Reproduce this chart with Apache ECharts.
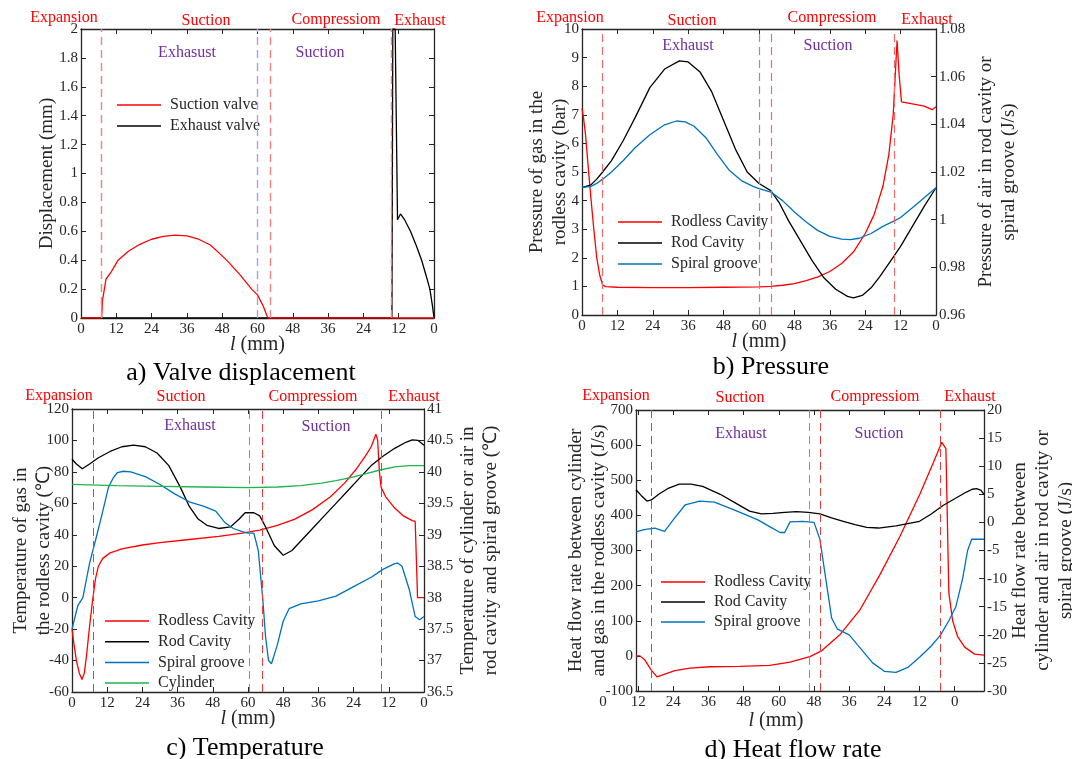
<!DOCTYPE html>
<html><head><meta charset="utf-8">
<script src="https://cdn.jsdelivr.net/npm/echarts@6/dist/echarts.min.js"></script>
<style>html,body{margin:0;padding:0;background:#fff}#c{width:1072px;height:759px}</style>
</head><body><div id="c"></div>
<script>
// ---------- data (x = position along cycle: 0..60 forward, 60..120 return) ----------
const phaseNames = ['Expansion','Suction','Compressiom','Exhaust'];
const xTickLabels = [0,12,24,36,48,60,48,36,24,12,0];
const dTickValues = [12,24,36,48,60,72,84,96,108,120];

const aSuction = [[0,0],[7,0],[7.3,0.12],[8.5,0.27],[10,0.31],[12.6,0.4],[16,0.46],[20,0.51],[24,0.545],[28,0.565],[32,0.573],[36,0.568],[40,0.545],[44,0.505],[48,0.43],[50,0.39],[54,0.3],[58,0.2],[60,0.16],[62,0.08],[63.5,0],[120,0]];
const aExhaust = [[0,0],[105.7,0],[106,2.0],[106.8,2.0],[107.6,0.68],[108.6,0.72],[110,0.68],[112,0.6],[114,0.5],[115.8,0.4],[117.5,0.28],[118.6,0.2],[119.5,0.08],[120,0]];

const bRodless = [[0,7.22],[0.5,6.9],[1.2,6.3],[2,5.3],[3.1,4.0],[4,3.0],[5,2.0],[6,1.4],[7,1.05],[8,0.99],[12,0.97],[24,0.96],[36,0.96],[48,0.97],[60,0.98],[64,1.0],[68,1.04],[72,1.1],[76,1.2],[80,1.33],[84,1.52],[88,1.8],[92,2.2],[96,2.85],[99,3.5],[102,4.5],[104,5.6],[105.5,7.0],[106.3,8.6],[106.8,9.6],[107.5,8.4],[108.3,7.45],[112,7.38],[116,7.3],[118.7,7.18],[120,7.28]];
const bRod = [[0,1.0134],[3,1.0146],[5,1.017],[7,1.02],[10,1.0248],[14,1.0332],[18,1.0428],[23,1.0554],[28,1.0632],[33,1.0666],[36,1.0662],[40,1.062],[44,1.0536],[48,1.0416],[52,1.0296],[56,1.02],[60,1.0152],[64,1.0122],[67,1.0068],[70,0.9996],[74,0.9912],[78,0.9828],[82,0.9756],[86,0.9708],[90,0.9678],[92,0.9672],[95,0.9682],[98,0.9714],[101,0.9762],[104,0.9816],[108,0.9888],[112,0.9972],[116,1.0056],[120,1.0134]];
const bSpiral = [[0,1.0134],[3,1.014],[5,1.0152],[7,1.017],[10,1.02],[14,1.0248],[18,1.0302],[23,1.0356],[28,1.0398],[32,1.0414],[35,1.041],[38,1.0392],[42,1.0344],[46,1.0272],[50,1.0206],[54,1.0164],[58,1.014],[60,1.013],[64,1.0116],[68,1.008],[72,1.0032],[76,0.999],[80,0.9954],[84,0.993],[88,0.9918],[91,0.9916],[94,0.9922],[98,0.9942],[102,0.9972],[106,0.9996],[108,1.0009],[112,1.005],[116,1.0092],[120,1.0134]];

const cRodless = [[0,-20],[0.7,-30],[1.5,-40],[2.5,-48],[3.4,-52],[4.2,-48],[5,-36],[6,-18],[7,-2],[8,12],[9,20],[10.5,25],[13,28.5],[17,31],[24,33.5],[30,35],[40,37],[50,39],[58,41],[64,43],[70,46],[76,50],[82,56],[88,64],[93,73],[97,82],[100,90],[102,96],[103.6,104],[104.2,100],[104.8,80],[105.4,70],[107,64],[110,57],[113,52],[116,49],[117,48.5],[117.3,49.5],[117.8,0],[120,0]];
const cRod = [[0,40.2],[1.5,40.125],[3.5,40.05],[6,40.125],[9,40.225],[13,40.325],[17,40.4],[21,40.425],[25,40.4],[29,40.3],[33,40.1],[37,39.75],[40,39.45],[43,39.25],[46,39.15],[50,39.1],[54,39.125],[57,39.25],[59,39.35],[62,39.35],[64,39.3],[66,39.125],[69,38.825],[72,38.675],[75,38.75],[78,38.9],[82,39.1],[86,39.3],[90,39.5],[94,39.7],[98,39.9],[102,40.1],[106,40.25],[110,40.375],[114,40.475],[116,40.51],[118,40.5],[120,40.425]];
const cSpiral = [[0,37.5],[2,37.875],[3.7,38.0],[6,38.55],[8.5,39.0],[10.5,39.375],[12.4,39.75],[14,39.9],[15.5,39.99],[17.5,40.01],[20,40.0],[25,39.925],[30,39.8],[35,39.65],[40,39.525],[45,39.45],[49,39.375],[52,39.2],[55,39.1],[58,39.05],[60,39.025],[62,39.025],[63.5,38.75],[65,38.0],[66,37.375],[67,37.0],[68,36.95],[70,37.25],[72,37.625],[74,37.825],[78,37.9],[84,37.95],[90,38.025],[96,38.175],[102,38.325],[106,38.45],[110,38.54],[111,38.55],[112.5,38.5],[115,38.125],[117,37.7],[118.5,37.65],[120,37.7]];
const cCylinder = [[0,39.8],[15,39.78],[30,39.77],[45,39.76],[60,39.75],[70,39.76],[78,39.78],[85,39.82],[90,39.86],[95,39.91],[100,39.97],[105,40.03],[110,40.08],[115,40.1],[120,40.1]];

const dRodless = [[11.25,0],[12.6,0],[14.3,-12],[16.4,-40],[18.4,-60],[21.1,-52],[24.5,-42],[29.7,-35],[36.5,-31],[46.7,-30],[56.9,-27],[63.8,-18],[70.6,-2],[74.7,15],[80.8,60],[87.6,130],[94.4,230],[101.3,340],[108.1,460],[113.2,560],[115.6,608],[117,590],[118,180],[119.3,100],[121,55],[123.4,25],[126.8,5],[130,2]];
const dRod = [[11.25,5.8],[13,4.8],[15,3.8],[16.5,4.0],[19,5.0],[22,6.0],[26,6.8],[30,6.8],[34,6.4],[40,5.0],[46,3.2],[50,2.0],[54,1.5],[58,1.6],[62,1.8],[66,1.9],[70,1.8],[74,1.5],[78,0.8],[82,0.2],[86,-0.4],[90,-0.9],[94,-1.0],[100,-0.6],[104,-0.2],[108,0.2],[112,1.5],[116,3.0],[120,4.2],[124,5.4],[126,5.9],[127.5,6.0],[129,5.7],[130,5.0]];
const dSpiral = [[11.25,-1.7],[14,-1.3],[17.7,-1.0],[21,-1.6],[24,0.5],[28,3.1],[33,3.8],[38,3.6],[43,2.6],[48,1.5],[53,0.4],[57,-0.8],[60.4,-1.8],[62,-1.8],[63.8,0.1],[68,0.2],[72,0.0],[74,-3],[76,-10],[78,-17],[80,-19],[84,-20],[88,-22.5],[92,-25],[96,-26.5],[100,-26.7],[104,-25.8],[108,-24],[112,-22],[115.2,-20],[118,-17.5],[120.4,-15],[122.7,-10],[124.4,-5],[125.8,-3],[130,-3]];

const aRedLines=[7,64.5,105.6], aPurpleLines=[60];
const bRedLines=[7,64.3,105.8], bPurpleLines=[60.2];
const cRedLines=[7.2,64.8,105.3], cPurpleLines=[60.3];
const dRedLines=[16.6,74,115.2], dPurpleLines=[70.3];

// ---------- styling helpers ----------
const FONT = 'Liberation Serif';
const AX = '#262626';
const RED = '#ff0000', BLK = '#000000', BLU = '#0072bd', GRN = '#22b24c', PUR = '#7030a0';
const fmtX = v => { const r = Math.round(v); return String(r <= 60 ? r : 120 - r); };

function mkX(gridIndex, o) {
  return Object.assign({
    type:'value', gridIndex, min:0, max:120, interval:12,
    axisLine:{show:true, onZero:false, lineStyle:{color:AX, width:1.3}},
    axisTick:{show:true, inside:true, length:5, lineStyle:{color:AX}},
    axisLabel:{color:AX, fontFamily:FONT, fontSize:15, margin:4, formatter: fmtX},
    splitLine:{show:false}, nameMoveOverlap:false
  }, o);
}
function mkY(gridIndex, min, max, interval, o) {
  return Object.assign({
    type:'value', gridIndex, min, max, interval,
    axisLine:{show:true, onZero:false, lineStyle:{color:AX, width:1.3}},
    axisTick:{show:true, inside:true, length:5, lineStyle:{color:AX}},
    axisLabel:{color:AX, fontFamily:FONT, fontSize:15, margin:3},
    splitLine:{show:false},
    nameLocation:'middle', nameRotate:90, nameMoveOverlap:false,
    nameTextStyle:{color:AX, fontFamily:FONT, fontSize:19, lineHeight:23.5}
  }, o);
}
const xName = {name:'{i|l} (mm)', nameLocation:'middle',
  nameTextStyle:{color:AX, fontFamily:FONT, fontSize:20, rich:{i:{fontStyle:'italic', fontFamily:FONT, fontSize:20, color:AX}}}};
const noLab = {axisLabel:{show:false}};

function ln(name, data, color, xi, yi, extra) {
  return Object.assign({type:'line', name, data, xAxisIndex:xi, yAxisIndex:yi, showSymbol:false, symbol:'none',
    lineStyle:{color, width:1.3}, itemStyle:{color}, animation:false, z:3}, extra||{});
}
function vlines(reds, purples, rc, pc, w) {
  return {silent:true, symbol:['none','none'], label:{show:false}, animation:false,
    data:[...reds.map(v=>({xAxis:v, lineStyle:{color:rc, type:[8,5], width:w}})),
          ...purples.map(v=>({xAxis:v, lineStyle:{color:pc, type:[8,5], width:w}}))]};
}
function legendAt(left, top, names, gap) {
  return {left, top, orient:'vertical', data:names, icon:'rect', itemWidth:44, itemHeight:1.5, itemGap:gap,
    textStyle:{fontFamily:FONT, fontSize:16, color:AX, padding:[0,0,0,4], lineHeight:16}, selectedMode:false};
}
function txt(x, y, text, fill, size) {
  return {type:'text', x, y, silent:true, style:{text, fill, font: size+'px "Liberation Serif"', textAlign:'center', textVerticalAlign:'middle'}};
}

const grids = [
  {left:81, top:29, width:353, height:289},
  {left:582, top:29, width:354, height:286},
  {left:72, top:409, width:352, height:283},
  {left:636, top:410, width:348, height:281},
  {left:603, top:410, width:381, height:281}
].map(g => Object.assign({outerBoundsMode:'none', containLabel:false}, g));

const option = {
  animation:false,
  backgroundColor:'#fff',
  grid: grids,
  xAxis: [
    mkX(0, Object.assign({nameGap:17}, xName)),
    mkX(1, Object.assign({nameGap:17}, xName)),
    mkX(2, Object.assign({nameGap:17}, xName)),
    mkX(3, {min:11.25, max:130, interval:null,
      axisTick:{show:true, inside:true, length:5, lineStyle:{color:AX}, customValues:dTickValues},
      axisLabel:{color:AX, fontFamily:FONT, fontSize:15, margin:4, formatter:fmtX, customValues:dTickValues}}),
    mkX(0, Object.assign({position:'top'}, noLab)),
    mkX(1, Object.assign({position:'top'}, noLab)),
    mkX(2, Object.assign({position:'top'}, noLab)),
    mkX(3, {position:'top', min:11.25, max:130, interval:null,
      axisTick:{show:true, inside:true, length:5, lineStyle:{color:AX}, customValues:dTickValues},
      axisLabel:{show:false}}),
    mkX(4, {min:0, max:130, interval:null, axisLine:{show:false}, axisTick:{show:false},
      axisLabel:{color:AX, fontFamily:FONT, fontSize:15, margin:4, formatter:fmtX, customValues:[0]}})
  ],
  yAxis: [
    mkY(0, 0, 2, 0.2, {name:'Displacement (mm)', nameGap:22}),
    mkY(0, 0, 2, 0.2, Object.assign({position:'right'}, noLab)),
    mkY(1, 0, 10, 1, {name:'Pressure of gas in the\nrodless cavity (bar)', nameGap:10}),
    mkY(1, 0.96, 1.08, 0.02, {position:'right', name:'Pressure of air in rod cavity or\nspiral groove (J/s)', nameGap:38}),
    mkY(2, -60, 120, 20, {name:'Temperature of gas in\nthe rodless cavity (\u2103)', nameGap:16}),
    mkY(2, 36.5, 41, 0.5, {position:'right', name:'Temperature of cylinder or air in\nrod cavity and spiral groove (\u2103)', nameGap:32}),
    mkY(3, -100, 700, 100, {name:'Heat flow rate between cylinder\nand gas in the rodless cavity (J/s)', nameGap:25}),
    mkY(3, -30, 20, 5, {position:'right', name:'Heat flow rate between\ncylinder and air in rod cavity or\nspiral groove (J/s)', nameGap:25,
      nameTextStyle:{color:AX, fontFamily:FONT, fontSize:19, lineHeight:23}}),
    {type:'value', gridIndex:4, show:false, min:0, max:1}
  ],
  legend: [
    legendAt(112, 92, ['Suction valve','Exhaust valve'], 5),
    legendAt(613, 209, ['Rodless Cavity','Rod Cavity','Spiral groove'], 5),
    legendAt(100, 608, ['Rodless Cavity','Rod Cavity','Spiral groove','Cylinder'], 4.7),
    legendAt(656, 569, ['Rodless Cavity','Rod Cavity','Spiral groove'], 4)
  ],
  series: [
    ln('Exhaust valve', aExhaust, BLK, 0, 0, {markLine: vlines(aRedLines, aPurpleLines, '#f28080', '#b39ddb', 1.4)}),
    ln('Suction valve', aSuction, RED, 0, 0),
    ln('Rodless Cavity', bRodless, RED, 1, 2, {markLine: vlines(bRedLines, bPurpleLines, '#f06a6a', '#9a88c0', 1.2)}),
    ln('Rod Cavity', bRod, BLK, 1, 3),
    ln('Spiral groove', bSpiral, BLU, 1, 3),
    ln('Rodless Cavity', cRodless, RED, 2, 4, {markLine: vlines(cRedLines, cPurpleLines, '#e83c3c', '#e86a7a', 1)}),
    ln('Rod Cavity', cRod, BLK, 2, 5),
    ln('Spiral groove', cSpiral, BLU, 2, 5),
    ln('Cylinder', cCylinder, GRN, 2, 5),
    ln('Rodless Cavity', dRodless, RED, 3, 6, {markLine: vlines(dRedLines, dPurpleLines, '#e83c3c', '#e86a7a', 1)}),
    ln('Rod Cavity', dRod, BLK, 3, 7),
    ln('Spiral groove', dSpiral, BLU, 3, 7)
  ],
  graphic: [
    txt(64,18,phaseNames[0],RED,16), txt(206,21,phaseNames[1],RED,16), txt(336,20,phaseNames[2],RED,16), txt(420,21,phaseNames[3],RED,16),
    txt(187,53,'Exhasust',PUR,16), txt(320,53,'Suction',PUR,16),
    txt(570,18,phaseNames[0],RED,16), txt(692,21,phaseNames[1],RED,16), txt(832,18,phaseNames[2],RED,16), txt(927,20,phaseNames[3],RED,16),
    txt(688,46,'Exhaust',PUR,16), txt(828,46,'Suction',PUR,16),
    txt(59,396,phaseNames[0],RED,16), txt(181,397,phaseNames[1],RED,16), txt(313,397,phaseNames[2],RED,16), txt(414,397,phaseNames[3],RED,16),
    txt(190,426,'Exhaust',PUR,16), txt(326,427,'Suction',PUR,16),
    txt(616,396,phaseNames[0],RED,16), txt(740,398,phaseNames[1],RED,16), txt(875,397,phaseNames[2],RED,16), txt(970,397,phaseNames[3],RED,16),
    txt(741,434,'Exhaust',PUR,16), txt(879,434,'Suction',PUR,16),
    {type:'text', x:776, y:721, silent:true, style:{text:'{i|l} (mm)', font:'20px "Liberation Serif"', fill:AX, textAlign:'center', textVerticalAlign:'middle', rich:{i:{fontStyle:'italic', font:'italic 20px "Liberation Serif"', fill:AX}}}},
    txt(241,373,'a) Valve displacement','#000',26),
    txt(771,367,'b) Pressure','#000',26),
    txt(245,748,'c) Temperature','#000',26),
    txt(793,750,'d) Heat flow rate','#000',26)
  ]
};
const chart = echarts.init(document.getElementById('c'), null, {renderer:'canvas'});
chart.setOption(option);
</script></body></html>
